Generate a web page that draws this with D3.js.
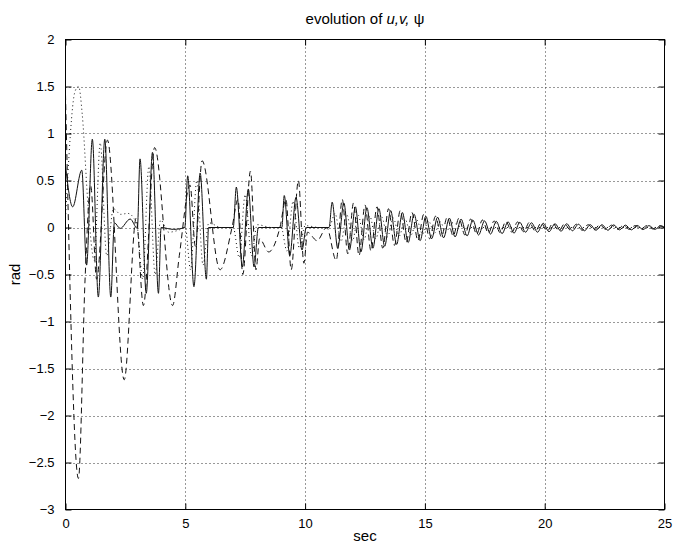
<!DOCTYPE html>
<html>
<head>
<meta charset="utf-8">
<script src="https://cdn.jsdelivr.net/npm/d3@7"></script>
<style>
  body { margin: 0; background: #fff; }
  svg { display: block; font-family: "Liberation Sans", Arial, Helvetica, sans-serif; }
</style>
</head>
<body>
<div id="chart"></div>
<script>
// Data: [sec, rad] turning points of each trace

const xTicks = [0, 5, 10, 15, 20, 25];
const yTicks = [2, 1.5, 1, 0.5, 0, -0.5, -1, -1.5, -2, -2.5, -3];

// solid trace
const solidPts = [
  [0, 0.66], [0.3, 0.22], [0.68, 0.61], [0.88, -0.4], [1.12, 0.94], [1.37, -0.74],
  [1.64, 0.94], [1.89, -0.74], [2.04, 0.05], [2.28, -0.01], [2.7, 0.09], [3.0, -0.01],
  [3.11, 0.73], [3.37, -0.7], [3.63, 0.8], [3.88, -0.7], [3.99, 0.0], [4.5, -0.02],
  [4.98, 0.0], [5.1, 0.55], [5.36, -0.63], [5.62, 0.58], [5.88, -0.55], [5.97, 0.0],
  [6.5, 0.0], [7.0, 0.0], [7.13, 0.43], [7.38, -0.42], [7.63, 0.41], [7.87, -0.42],
  [8.05, 0.0], [8.6, 0.0], [9.03, 0.0], [9.13, 0.34], [9.36, -0.3], [9.62, 0.32],
  [9.87, -0.24], [10.05, 0.0], [10.5, 0.0], [11.0, 0.0],
  [11.13, 0.27], [11.36, -0.22], [11.62, 0.26], [11.85, -0.24], [12.1, 0.22], [12.33, -0.26],
  [12.58, 0.21], [12.83, -0.22], [13.08, 0.2], [13.32, -0.2], [13.57, 0.18], [13.82, -0.18],
  [14.06, 0.16], [14.3, -0.16], [14.55, 0.14], [14.8, -0.14], [15.04, 0.12], [15.28, -0.12],
  [15.53, 0.11], [15.78, -0.11], [16.02, 0.1], [16.26, -0.1], [16.51, 0.09], [16.76, -0.09],
  [17.0, 0.08], [17.24, -0.08], [17.49, 0.07], [17.74, -0.07], [17.98, 0.065], [18.22, -0.065],
  [18.47, 0.06], [18.72, -0.06], [18.96, 0.055], [19.2, -0.05], [19.45, 0.05], [19.7, -0.05],
  [19.94, 0.045], [20.18, -0.045], [20.43, 0.04], [20.68, -0.04], [20.92, 0.04], [21.16, -0.035],
  [21.41, 0.035], [21.66, -0.035], [21.9, 0.03], [22.14, -0.03], [22.39, 0.03], [22.64, -0.03],
  [22.88, 0.028], [23.12, -0.025], [23.37, 0.025], [23.62, -0.025], [23.86, 0.022], [24.1, -0.022],
  [24.35, 0.02], [24.6, -0.02], [24.84, 0.02], [25, 0.0]
];

// dashed trace
const dashedPts = [
  [0, 1.42], [0.54, -2.67], [0.82, -0.53], [1.05, 0.45], [1.3, -0.55], [1.75, 0.93],
  [2.45, -1.62], [2.95, 0.1], [3.25, -0.83], [3.72, 0.85], [4.47, -0.83], [4.75, -0.3],
  [5.2, 0.45], [5.42, -0.2], [5.7, 0.71], [6.45, -0.45], [6.95, 0.0], [7.2, 0.3],
  [7.4, -0.5], [7.72, 0.6], [7.95, -0.45], [8.1, -0.12], [8.48, -0.26], [8.95, 0.0],
  [9.2, 0.3], [9.42, -0.45], [9.72, 0.5], [9.95, -0.38], [10.1, -0.05], [10.5, -0.14],
  [10.9, 0.0],
  [11.3, -0.35], [11.55, 0.3], [11.78, -0.28], [12.02, 0.26], [12.25, -0.3], [12.5, 0.24],
  [12.75, -0.25], [13.0, 0.22], [13.24, -0.22], [13.48, 0.2], [13.73, -0.19], [13.97, 0.18],
  [14.22, -0.16], [14.46, 0.16], [14.71, -0.14], [14.95, 0.14], [15.2, -0.12], [15.44, 0.12],
  [15.69, -0.1], [15.93, 0.11], [16.18, -0.09], [16.42, 0.1], [16.67, -0.08], [16.91, 0.09],
  [17.16, -0.07], [17.4, 0.08], [17.65, -0.06], [17.89, 0.07], [18.14, -0.055], [18.38, 0.065],
  [18.63, -0.05], [18.87, 0.06], [19.12, -0.045], [19.36, 0.055], [19.61, -0.04], [19.85, 0.05],
  [20.1, -0.04], [20.34, 0.045], [20.59, -0.035], [20.83, 0.04], [21.08, -0.03], [21.32, 0.035],
  [21.57, -0.03], [21.81, 0.03], [22.06, -0.025], [22.3, 0.03], [22.55, -0.02], [22.79, 0.025],
  [23.04, -0.02], [23.28, 0.022], [23.53, -0.02], [23.77, 0.02], [24.02, -0.018], [24.26, 0.02],
  [24.51, -0.015], [24.75, 0.018], [25, 0.0]
];

// dotted trace
const dottedPts = [
  [0, 0.1], [0.4, 1.45], [0.55, 1.5], [0.7, 1.2], [0.95, 0.2], [1.2, -0.35],
  [1.45, 0.9], [1.72, -0.3], [2.0, 0.2], [2.3, 0.14], [2.6, 0.15], [2.85, 0.1],
  [3.0, 0.0], [3.22, -0.55], [3.48, 0.65], [3.74, -0.5], [3.97, 0.08], [4.3, -0.05],
  [4.7, -0.03], [5.0, 0.0], [5.22, -0.45], [5.48, 0.5], [5.74, -0.4], [5.98, 0.05],
  [6.5, 0.0], [7.0, 0.0], [7.25, -0.32], [7.5, 0.35], [7.76, -0.3], [8.0, 0.03],
  [8.6, 0.0], [9.0, 0.0], [9.24, -0.25], [9.5, 0.28], [9.76, -0.22], [10.0, 0.02],
  [10.6, 0.0], [11.0, 0.0],
  [11.25, 0.15], [11.5, -0.15], [11.74, 0.14], [11.98, -0.14], [12.22, 0.13], [12.46, -0.13],
  [12.7, 0.12], [12.95, -0.12], [13.2, 0.11], [13.44, -0.1], [13.68, 0.1], [13.93, -0.09],
  [14.17, 0.09], [14.42, -0.08], [14.66, 0.08], [14.9, -0.07], [15.15, 0.07], [15.4, -0.06],
  [15.64, 0.06], [15.88, -0.05], [16.13, 0.05], [16.6, 0.0], [17.5, 0.0], [25, 0.0]
];

// Layout

const width = 673;
const height = 547;
const plot = { left: 65.5, right: 664.5, top: 39.5, bottom: 509.5 };
const tickLen = 6;

const svg = d3.select("#chart")
  .append("svg")
  .attr("width", width)
  .attr("height", height);

const xScale = d3.scaleLinear()
  .domain([0, 25])
  .range([plot.left, plot.right]);

const yScale = d3.scaleLinear()
  .domain([-3, 2])
  .range([plot.bottom, plot.top]);

// Grid (dotted, matlab style)

const grid = svg.append("g").attr("class", "grid")
  .attr("stroke", "#333")
  .attr("stroke-width", 1)
  .attr("stroke-dasharray", "1,3");

grid.selectAll("line.vgrid")
  .data(xTicks.slice(1, -1))
  .join("line")
  .attr("class", "vgrid")
  .attr("x1", d => Math.round(xScale(d)) + 0.5)
  .attr("x2", d => Math.round(xScale(d)) + 0.5)
  .attr("y1", plot.top)
  .attr("y2", plot.bottom);

grid.selectAll("line.hgrid")
  .data(yTicks.slice(1, -1))
  .join("line")
  .attr("class", "hgrid")
  .attr("x1", plot.left)
  .attr("x2", plot.right)
  .attr("y1", d => Math.round(yScale(d)) + 0.5)
  .attr("y2", d => Math.round(yScale(d)) + 0.5);

// Traces

const line = d3.line()
  .x(d => xScale(d[0]))
  .y(d => yScale(d[1]))
  .curve(d3.curveMonotoneX);

const traces = svg.append("g")
  .attr("fill", "none")
  .attr("stroke", "#111")
  .attr("stroke-width", 1);

traces.append("path").datum(dottedPts)
  .attr("d", line)
  .attr("stroke-dasharray", "1,3");

traces.append("path").datum(dashedPts)
  .attr("d", line)
  .attr("stroke-dasharray", "6,4");

traces.append("path").datum(solidPts)
  .attr("d", line);

// Axes

const xAxis = d3.axisBottom(xScale).tickValues(xTicks).tickSizeInner(-tickLen).tickSizeOuter(0).tickPadding(9);
const yAxis = d3.axisLeft(yScale).tickValues(yTicks).tickSizeInner(-tickLen).tickSizeOuter(0).tickPadding(11)
  .tickFormat(d3.format("~g"));
const xAxisTop = d3.axisTop(xScale).tickValues(xTicks).tickSizeInner(-tickLen).tickSizeOuter(0).tickFormat("");
const yAxisRight = d3.axisRight(yScale).tickValues(yTicks).tickSizeInner(-tickLen).tickSizeOuter(0).tickFormat("");

function styleAxis(g) {
  g.select(".domain").remove();
  g.selectAll(".tick line").attr("stroke", "#000");
  g.selectAll(".tick text")
    .attr("fill", "#000")
    .style("font-size", "13px")
    .style("font-family", "\"Liberation Sans\", Arial, sans-serif");
}

svg.append("g").attr("transform", `translate(0, ${plot.bottom})`).call(xAxis).call(styleAxis);
svg.append("g").attr("transform", `translate(${plot.left}, 0)`).call(yAxis).call(styleAxis);
svg.append("g").attr("transform", `translate(0, ${plot.top})`).call(xAxisTop).call(styleAxis);
svg.append("g").attr("transform", `translate(${plot.right}, 0)`).call(yAxisRight).call(styleAxis);

// Box

svg.append("rect")
  .attr("x", plot.left)
  .attr("y", plot.top)
  .attr("width", plot.right - plot.left)
  .attr("height", plot.bottom - plot.top)
  .attr("fill", "none")
  .attr("stroke", "#000")
  .attr("stroke-width", 1);

// Labels

const title = svg.append("text")
  .attr("x", (plot.left + plot.right) / 2)
  .attr("y", 24)
  .attr("text-anchor", "middle")
  .style("font-size", "15px");
title.append("tspan").text("evolution of  ");
title.append("tspan").style("font-style", "italic").text("u,v,");
title.append("tspan").text(" ψ");

svg.append("text")
  .attr("x", (plot.left + plot.right) / 2)
  .attr("y", 541)
  .attr("text-anchor", "middle")
  .style("font-size", "15px")
  .text("sec");

svg.append("text")
  .attr("transform", `translate(20, ${(plot.top + plot.bottom) / 2}) rotate(-90)`)
  .attr("text-anchor", "middle")
  .style("font-size", "15px")
  .text("rad");
</script>
</body>
</html>
